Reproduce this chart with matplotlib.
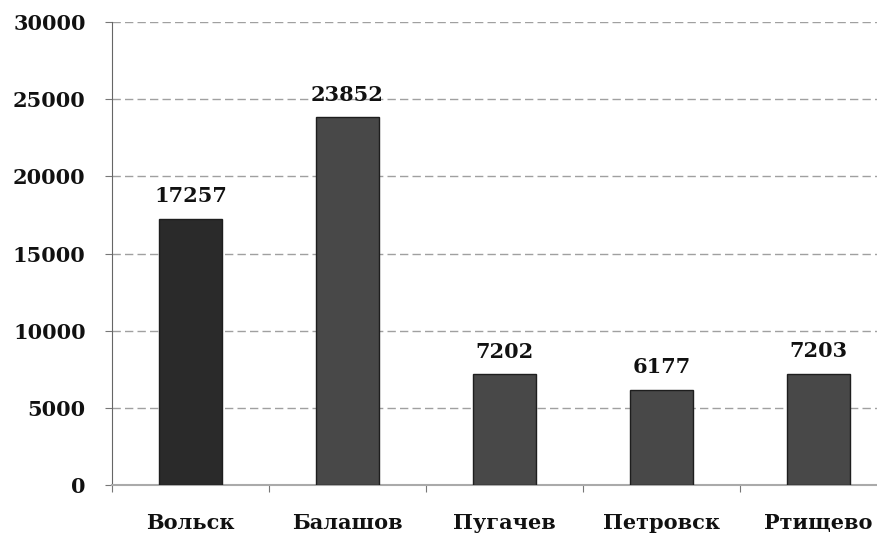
import numpy as np
import matplotlib
matplotlib.use("Agg")
import matplotlib.pyplot as plt

towns = ["Вольск", "Балашов", "Пугачев", "Петровск", "Ртищево"]
values = [17257, 23852, 7202, 6177, 7203]
bar_colors = ["#2a2a2a", "#484848", "#484848", "#484848", "#484848"]
y_ticks = [0, 5000, 10000, 15000, 20000, 25000, 30000]

plt.rcParams["font.family"] = ["DejaVu Serif", "Liberation Serif"]
plt.rcParams["font.weight"] = "bold"

fig = plt.figure(figsize=(8.77, 5.34), dpi=100)
ax = fig.add_axes([112 / 877, 49 / 534, 785 / 877, 463 / 534])

x = np.arange(len(towns))
ax.bar(x, values, width=0.4, color=bar_colors, edgecolor="#1e1e1e", linewidth=1, zorder=3)

for xi, v in zip(x, values):
    ax.text(xi, v + 800, str(v), ha="center", va="bottom", fontsize=15, color="#111111")

ax.set_xlim(-0.5, len(towns) - 0.5)
ax.set_ylim(0, 30000)
ax.set_yticks(y_ticks)
ax.set_yticklabels([str(t) for t in y_ticks], fontsize=15, color="#111111")
ax.yaxis.grid(True, linestyle=(0, (6, 3)), color="#a0a0a0", linewidth=1, zorder=0)

# category boundaries get ticks, centres get labels
ax.set_xticks(np.arange(len(towns) + 1) - 0.5)
ax.set_xticklabels([])
ax.set_xticks(x, minor=True)
ax.set_xticklabels(towns, minor=True, fontsize=15, color="#111111")
ax.tick_params(axis="x", which="minor", length=0, pad=20)
ax.tick_params(axis="x", which="major", length=5, color="#777777", direction="out")
ax.tick_params(axis="y", length=5, color="#777777", pad=14)

for s in ["top", "right"]:
    ax.spines[s].set_visible(False)
ax.spines["left"].set_color("#666666")
ax.spines["bottom"].set_color("#aaaaaa")
ax.spines["bottom"].set_linewidth(1.5)

fig.savefig("out.png", dpi=100)
